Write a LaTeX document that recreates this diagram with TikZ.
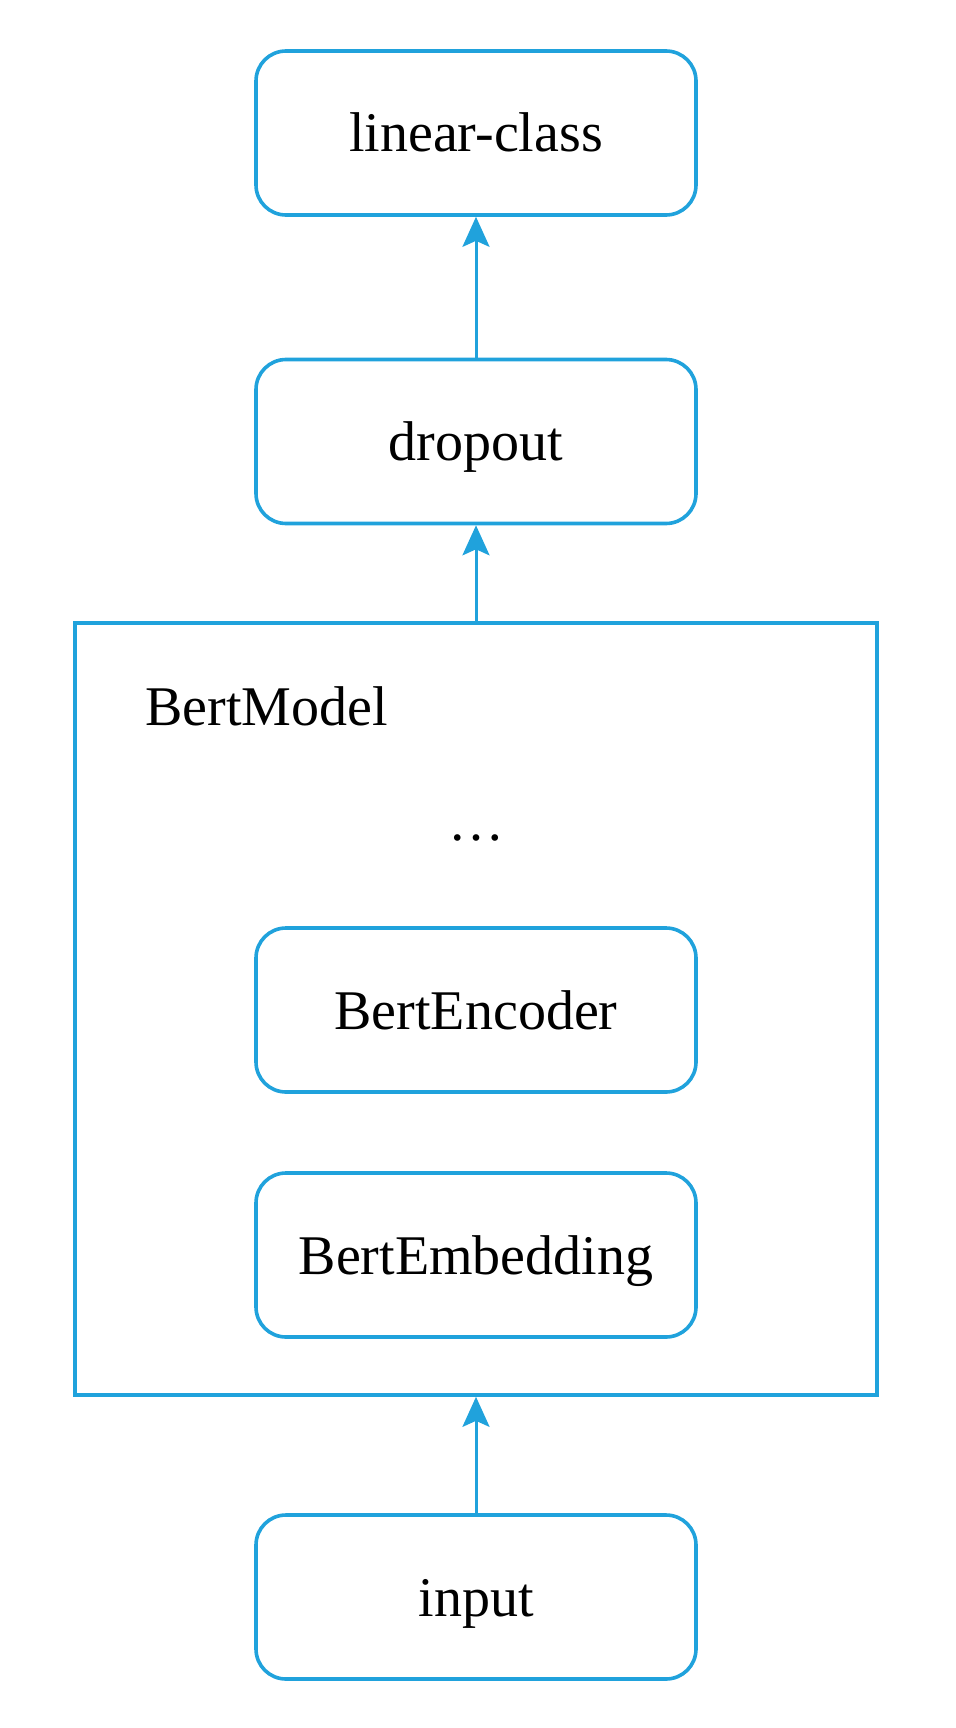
\documentclass[tikz,border=0pt]{standalone}
\usepackage{fontspec}
\setmainfont{Liberation Serif}
\usetikzlibrary{arrows.meta}
\definecolor{bblue}{RGB}{32,162,220}
\tikzset{
  rbox/.style={draw=bblue, line width=1.8pt, rounded corners=15pt,
    minimum width=220pt, minimum height=82pt, inner sep=0pt,
    text height=19pt, text depth=0pt, font=\fontsize{28}{33}\selectfont},
  outerbox/.style={draw=bblue, line width=1.8pt, minimum width=401pt, minimum height=386pt, inner sep=0pt},
  lbl/.style={inner sep=0pt, font=\fontsize{28}{33}\selectfont},
  flow/.style={draw=bblue, line width=1.5pt, -{Stealth[length=15pt,width=13.5pt,inset=3pt]}}
}
\begin{document}
\begin{tikzpicture}[x=0.5pt,y=-0.5pt]
\useasboundingbox (0,0) rectangle (955,1728);
\node[outerbox] (bert) at (476,1009) {};
\node[rbox] (linear) at (476,133) {linear-class};
\node[rbox] (dropout) at (476,441.5) {dropout};
\node[rbox] (encoder) at (476,1010) {BertEncoder};
\node[rbox] (embed) at (476,1255) {BertEmbedding};
\node[rbox] (input) at (476,1597) {input};
\node[lbl, anchor=base west] (bertlbl) at (145,725) {BertModel};
\node[lbl, anchor=base] (dots) at (476,840) {…};
\draw[flow] (input.north) -- (bert.south);
\draw[flow] (bert.north) -- (dropout.south);
\draw[flow] (dropout.north) -- (linear.south);
\end{tikzpicture}
\end{document}
